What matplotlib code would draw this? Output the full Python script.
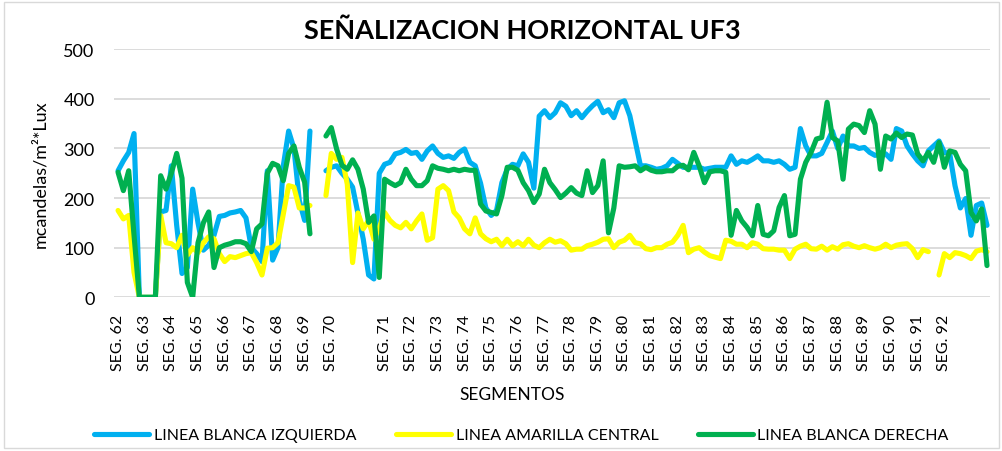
import numpy as np
import matplotlib
matplotlib.use("Agg")
import matplotlib.pyplot as plt
from matplotlib.patches import Rectangle

nan = np.nan

# segment labels along the category axis (one slot left empty after SEG. 70)
seg_labels = ["SEG. %d" % s for s in range(62, 71)] + [""] + ["SEG. %d" % s for s in range(71, 93)]
pts_per_seg = 5

# luminance readings, mcd/m2/lux, 164 readings per line
blanca_izq = [
    255, 275, 292, 330, 0, 0, 0, 0, 172, 175,
    265, 145, 48, 60, 218, 150, 95, 105, 125, 163,
    165, 170, 172, 175, 160, 100, 88, 72, 255, 75,
    100, 265, 335, 300, 195, 155, 335, nan, nan, 255,
    262, 265, 250, 238, 222, 170, 117, 45, 37, 250,
    268, 272, 289, 292, 298, 290, 292, 278, 295, 305,
    290, 282, 285, 280, 292, 299, 272, 265, 230, 180,
    165, 175, 231, 258, 268, 265, 289, 272, 220, 365,
    376, 362, 372, 392, 385, 366, 376, 362, 375, 386,
    395, 372, 378, 362, 392, 396, 366, 315, 265, 265,
    262, 258, 260, 265, 278, 270, 262, 262, 262, 262,
    258, 260, 262, 262, 262, 285, 268, 275, 272, 278,
    285, 275, 275, 272, 275, 268, 258, 262, 340, 305,
    285, 285, 290, 312, 335, 300, 325, 305, 305, 300,
    302, 292, 286, 288, 289, 278, 340, 335, 305, 289,
    275, 265, 295, 305, 315, 292, 290, 225, 180, 199,
    125, 185, 190, 145,
]

amarilla_central = [
    175, 158, 165, 50, 0, 0, 0, 0, 165, 110,
    108, 100, 125, 85, 100, 90, 110, 122, 118, 88,
    72, 82, 80, 84, 88, 90, 70, 45, 99, 100,
    110, 168, 225, 222, 180, 180, 185, nan, nan, 205,
    290, 278, 282, 228, 70, 170, 138, 155, 117, 140,
    171, 155, 145, 140, 151, 138, 154, 168, 115, 120,
    218, 225, 215, 172, 160, 138, 128, 160, 128, 118,
    112, 117, 104, 117, 104, 112, 104, 117, 105, 100,
    110, 117, 111, 114, 108, 95, 97, 97, 104, 107,
    111, 117, 118, 100, 111, 115, 125, 110, 108, 98,
    96, 100, 100, 107, 111, 125, 145, 90, 97, 100,
    91, 84, 81, 78, 115, 113, 107, 107, 100, 110,
    107, 98, 97, 97, 95, 95, 78, 97, 103, 107,
    98, 97, 103, 95, 102, 97, 106, 108, 103, 100,
    104, 100, 97, 100, 107, 100, 105, 107, 108, 98,
    80, 96, 92, nan, 45, 88, 80, 90, 88, 84,
    78, 93, 96, 92,
]

blanca_der = [
    252, 215, 255, 125, 0, 0, 0, 0, 245, 218,
    250, 290, 240, 30, 0, 110, 150, 172, 60, 100,
    105, 108, 112, 112, 108, 92, 138, 148, 250, 270,
    265, 235, 290, 305, 262, 232, 128, nan, nan, 325,
    342, 299, 266, 258, 277, 258, 218, 151, 164, 40,
    238, 231, 225, 231, 258, 238, 225, 225, 235, 265,
    260, 258, 255, 258, 255, 258, 256, 256, 188, 174,
    171, 168, 205, 262, 262, 256, 231, 215, 191, 208,
    258, 231, 217, 201, 210, 221, 210, 205, 255, 211,
    225, 275, 130, 180, 265, 262, 263, 265, 255, 262,
    256, 253, 253, 255, 255, 264, 266, 257, 292, 265,
    231, 253, 255, 255, 252, 125, 175, 154, 141, 124,
    185, 127, 124, 134, 181, 205, 124, 127, 238, 272,
    292, 319, 322, 393, 322, 315, 238, 339, 349, 346,
    332, 376, 349, 258, 325, 319, 331, 322, 329, 327,
    289, 275, 292, 272, 312, 262, 295, 292, 268, 255,
    171, 154, 178, 64,
]

series = [
    ("LINEA BLANCA IZQUIERDA", blanca_izq, "#00B0F0"),
    ("LINEA AMARILLA CENTRAL", amarilla_central, "#FFFF00"),
    ("LINEA BLANCA DERECHA", blanca_der, "#00B050"),
]

plt.rcParams["font.family"] = ["Lato", "DejaVu Sans"]

fig = plt.figure(figsize=(10.03, 4.52), dpi=100)
ax = fig.add_axes([0.1137, 0.340, 0.873, 0.549])

x = np.arange(len(blanca_izq))
for name, vals, col in series:
    ax.plot(x, vals, color=col, lw=3.7, label=name, solid_joinstyle="round",
            solid_capstyle="round")

ax.set_ylim(0, 500)
ax.set_xlim(-0.75, 163.5)
ax.set_yticks(range(0, 501, 100))
ax.set_xticks(np.arange(len(seg_labels)) * pts_per_seg)
ax.set_xticklabels(seg_labels, rotation=90, fontsize=11.5)
ax.tick_params(axis="y", length=0, pad=14, labelsize=13)
ax.tick_params(axis="x", length=0, pad=12)
ax.yaxis.grid(True, color="#d9d9d9", lw=1.3)
ax.set_axisbelow(True)
for s in ax.spines.values():
    s.set_visible(False)

ax.set_ylabel("mcandelas/m²*Lux", fontsize=13, labelpad=11)
fig.text(0.511, 0.125, "SEGMENTOS", ha="center", va="center", fontsize=12.5)

fig.text(0.521, 0.932, "SEÑALIZACION HORIZONTAL UF3", ha="center", va="center",
         fontsize=19.5, fontweight="bold")

fig.legend(loc="center", bbox_to_anchor=(0.52, 0.035), ncol=3, frameon=False,
           fontsize=11.5, handlelength=3.45, handletextpad=0.3, columnspacing=2.45)

fig.patches.append(Rectangle((0.004, 0.006), 0.992, 0.988, transform=fig.transFigure,
                             fill=False, edgecolor="#d9d9d9", lw=1))

fig.savefig("out.png", dpi=100)
